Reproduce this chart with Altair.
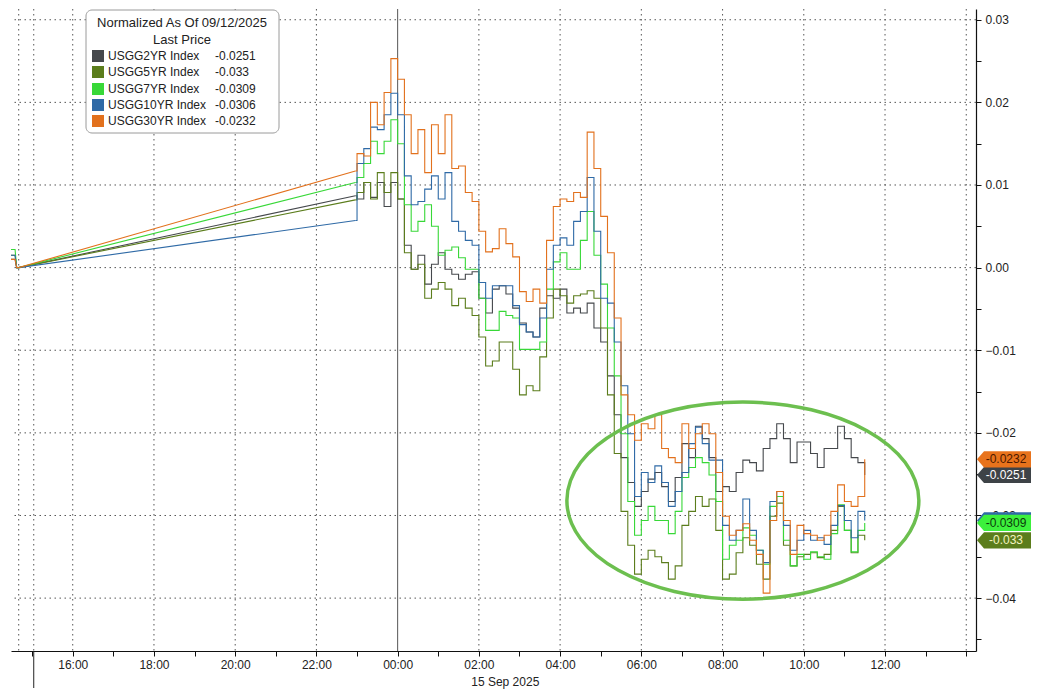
import altair as alt
import pandas as pd

W, H = 965, 642
FONT = "Liberation Sans"

SERIES = ["USGG2YR Index", "USGG5YR Index", "USGG7YR Index", "USGG10YR Index", "USGG30YR Index"]
LINE_COLORS = ["#45484c", "#5b7d1c", "#38d838", "#2f6aa6", "#e2711d"]
BOX_FILLS = ["#3e4347", "#5b7d1c", "#3cf03c", "#2f6aa6", "#e8731c"]
BOX_TEXT = ["#ffffff", "#f4f4c0", "#0b3a0b", "#ffffff", "#4a1800"]
LAST = [-0.0251, -0.033, -0.0309, -0.0306, -0.0232]
LAST_TEXT = ["-0.0251", "-0.033", "-0.0309", "-0.0306", "-0.0232"]

# time in hours relative to 00:00, 15 Sep 2025
PRE_HOURS = [-9.52, -9.42, -9.38, -9.33]
BRIDGE_HOUR = -1.04
GRID_START_HOUR = -1.0
GRID_STEP_MIN = 10
N_GRID = 76
HOURS = PRE_HOURS + [BRIDGE_HOUR] + [GRID_START_HOUR + i * GRID_STEP_MIN / 60 for i in range(N_GRID)]
N_PRE = len(PRE_HOURS)  # points before the weekend bridge

# values in units of 0.001 (pre-session, bridge end, then 10-minute readings)
Y2 = [1.0, 1.0, 0.0, 0.0, 8.7,
      8.3, 10.3, 8.5, 10.3, 7.4, 10.3, 8.3, 2.7, -0.2, 1.5, -2.0, 0.4,
      1.8, -0.2, -0.8, -1.4, -0.8, -0.5, -3.7, -5.5, -2.6, -2.2, -3.2, -4.9,
      -6.7, -7.8, -8.4, -4.9, -3.4, -3.7, -2.6, -5.5, -4.9, -5.5, -4.3, -7.3,
      -9.0, -13.1, -17.8, -23.0, -26.0, -28.9, -27.1, -25.6, -24.8, -26.5, -28.3, -25.4,
      -21.3, -23.0, -19.2, -20.7, -23.0, -27.1, -26.5, -27.1, -24.8, -23.3, -23.6, -24.6,
      -21.9, -20.7, -18.9, -20.7, -23.6, -21.1, -21.1, -22.5, -24.2, -21.9, -21.9, -19.2,
      -20.7, -23.0, -23.6, -25.1]
Y5 = [1.5, 1.5, 0.0, 0.0, 8.2,
      9.1, 10.3, 8.3, 11.5, 9.1, 11.5, 8.3, 1.8, -0.2, 0.4, -3.7, -2.6,
      -1.8, -2.6, -4.6, -3.7, -4.9, -5.8, -8.4, -11.9, -11.3, -9.0, -9.0, -12.3,
      -15.4, -14.3, -14.9, -10.8, -6.1, -2.6, -3.4, -4.3, -3.4, -3.2, -2.8, -3.7,
      -7.3, -15.4, -22.5, -29.5, -33.6, -37.1, -35.3, -34.2, -35.0, -35.7, -37.7, -36.1,
      -31.2, -29.5, -27.7, -28.9, -28.0, -31.8, -37.7, -37.1, -34.5, -32.7, -33.6, -35.9,
      -37.7, -30.1, -28.5, -33.6, -36.1, -35.0, -34.7, -34.5, -35.1, -34.7, -31.8, -28.9,
      -31.8, -34.5, -32.4, -33.0]
Y7 = [2.2, 2.2, 0.0, 0.0, 10.3,
      10.9, 12.6, 15.3, 13.8, 15.3, 17.9, 15.0, 7.6, 4.4, 5.6, 7.6, 5.0,
      1.5, 2.1, 2.5, 1.2, -0.2, -0.2, -3.7, -7.6, -7.6, -5.3, -5.8, -6.1,
      -9.9, -9.9, -9.9, -9.0, -2.6, 0.7, 1.8, -0.2, -0.2, 3.3, 6.8, 1.5,
      -2.0, -7.3, -13.1, -20.1, -28.3, -32.4, -30.6, -28.9, -30.6, -30.6, -32.2, -29.5,
      -25.4, -24.2, -23.0, -23.6, -25.1, -28.3, -35.3, -33.6, -33.0, -31.5, -32.4, -34.2,
      -35.9, -28.9, -27.7, -33.0, -36.1, -34.7, -35.3, -34.4, -35.0, -35.3, -32.2, -28.7,
      -31.8, -34.4, -31.8, -30.9]
Y10 = [1.5, 1.5, 0.0, 0.0, 5.7,
       12.6, 14.4, 17.0, 16.7, 18.5, 21.1, 18.5, 11.1, 7.6, 8.0, 9.5, 11.1,
       8.3, 11.5, 5.6, 4.4, 3.3, 2.7, -1.8, -3.7, -2.2, -2.2, -2.2, -4.6,
       -6.9, -7.8, -8.4, -6.1, -0.2, 2.7, 3.6, 2.7, 5.6, 6.8, 10.9, 4.4,
       -3.7, -4.3, -9.0, -14.3, -20.1, -27.7, -24.8, -26.0, -24.0, -26.0, -28.9, -27.1,
       -24.8, -21.3, -19.3, -21.3, -23.3, -23.3, -31.2, -33.0, -31.8, -28.0, -31.8, -34.2,
       -35.7, -28.3, -27.1, -31.2, -34.2, -33.0, -31.8, -33.0, -32.7, -33.5, -31.2, -28.8,
       -30.6, -32.7, -29.5, -30.6]
Y30 = [1.0, 1.0, 0.0, 0.0, 11.7,
       13.8, 13.5, 20.0, 17.3, 21.2, 25.3, 22.8, 18.5, 13.8, 16.7, 11.5, 17.3,
       13.8, 18.5, 12.0, 12.3, 9.1, 8.0, 4.4, 1.9, 2.3, 4.7, 2.9, 1.3,
       -2.9, -4.1, -2.6, -4.3, 3.3, 7.4, 8.3, 8.0, 9.1, 8.5, 16.4, 12.0,
       6.2, 1.8, -6.1, -15.4, -17.8, -20.9, -18.9, -19.5, -17.8, -21.9, -23.0, -23.6,
       -18.9, -21.9, -20.1, -18.9, -20.1, -24.8, -30.1, -32.4, -31.8, -31.0, -33.0, -34.7,
       -39.4, -30.6, -27.1, -30.6, -34.7, -31.2, -32.2, -32.4, -33.0, -32.4, -29.5, -26.3,
       -28.3, -28.9, -27.7, -23.2]
VALUES = [Y2, Y5, Y7, Y10, Y30]
UNIT = 0.001

X_DOMAIN = [-9.52, 14.24]
Y_DOMAIN = [-0.0464, 0.0313]
VGRID_HOURS = [-9.33, -8.96, -8, -6, -4, -2, 2, 4, 6, 8, 10, 12, 14]
HGRID_LEVELS = [-0.04, -0.03, -0.02, -0.01, 0.0, 0.01, 0.02, 0.03]
X_TICKS = list(range(-9, 15))
Y_TICKS = [-0.045, -0.04, -0.035, -0.03, -0.025, -0.02, -0.015, -0.01, -0.005,
           0.0, 0.005, 0.01, 0.015, 0.02, 0.025, 0.03]

ELLIPSE_CENTER = (8.5, -0.0282)
ELLIPSE_PATH = ("M -1 0 C -1 -0.309 -0.552 -0.56 0 -0.56 C 0.552 -0.56 1 -0.309 1 0 "
                "C 1 0.309 0.552 0.56 0 0.56 C -0.552 0.56 -1 0.309 -1 0 Z")
ELLIPSE_SIZE = 123904  # (2 * 176 px)^2
BOX_PATH = "M -1 0 L -0.74 -0.3 L 1 -0.3 L 1 0.3 L -0.74 0.3 Z"

xs = alt.Scale(domain=X_DOMAIN, nice=False, zero=False)
ys = alt.Scale(domain=Y_DOMAIN, nice=False, zero=False)

HH = "((datum.value + 24) % 24)"
x_axis = alt.Axis(
    values=X_TICKS, grid=False, title=None, orient="bottom",
    labelExpr=f"(datum.value % 2 == 0 && datum.value < 13) ? (({HH} < 10) ? '0' : '') + {HH} + ':00' : ''",
    tickSize=5, tickColor="#111", domainColor="#111", domainWidth=1.2,
    labelColor="#222", labelFont=FONT, labelFontSize=12, labelPadding=3,
    labelOverlap=False, labelFlush=False,
)
y_axis = alt.Axis(
    orient="right", values=Y_TICKS, grid=False, title=None,
    labelExpr="abs(round(datum.value * 1000)) % 10 == 0 ? format(datum.value, '.2f') : ''",
    tickSize=5, tickColor="#111", domainColor="#111", domainWidth=1.2,
    labelColor="#222", labelFont=FONT, labelFontSize=12, labelPadding=4,
    labelOverlap=False, labelFlush=False,
)

one = alt.Data(values=[{"k": 0}])

rows = []
for name, vals in zip(SERIES, VALUES):
    for idx, (t, v) in enumerate(zip(HOURS, vals)):
        rows.append({"t": t, "v": v * UNIT, "series": name, "idx": idx})
all_df = pd.DataFrame(rows)

X = lambda: alt.X("t:Q", scale=xs, axis=x_axis)
Y = lambda: alt.Y("v:Q", scale=ys, axis=y_axis)

vgrid = alt.Chart(pd.DataFrame({"t": VGRID_HOURS})).mark_rule(
    color="#555", strokeWidth=1, strokeDash=[1.5, 3.5]
).encode(x=X())

hgrid = alt.Chart(pd.DataFrame({"v": HGRID_LEVELS})).mark_rule(
    color="#555", strokeWidth=1, strokeDash=[1.5, 3.5]
).encode(y=Y())

midnight = alt.Chart(pd.DataFrame({"t": [0.0]})).mark_rule(color="#555", strokeWidth=1).encode(x=X())
day_tick = alt.Chart(pd.DataFrame({"t": [-8.96]})).mark_rule(color="#222", strokeWidth=1).encode(
    x=X(), y=alt.value(H), y2=alt.value(H + 37)
)

line_layers = []
for name, col in zip(SERIES, LINE_COLORS):
    df = all_df[all_df["series"] == name]
    # Friday tail and weekend bridge: straight segments
    line_layers.append(
        alt.Chart(df[df["idx"] <= N_PRE]).mark_line(
            color=col, strokeWidth=1.1, interpolate="linear"
        ).encode(x=X(), y=Y())
    )
    # Monday session: stepped ticks
    line_layers.append(
        alt.Chart(df[df["idx"] >= N_PRE]).mark_line(
            color=col, strokeWidth=1.1, interpolate="step-after"
        ).encode(x=X(), y=Y())
    )

ellipse = alt.Chart(pd.DataFrame({"t": [ELLIPSE_CENTER[0]], "v": [ELLIPSE_CENTER[1]]})).mark_point(
    shape=ELLIPSE_PATH, size=ELLIPSE_SIZE, filled=False, color="#6cbf4f",
    strokeWidth=3.5, opacity=1
).encode(x=X(), y=Y())

box_order = [3, 0, 1, 2, 4]
box_df = pd.DataFrame({
    "v": [LAST[i] for i in box_order],
    "text": [LAST_TEXT[i] for i in box_order],
    "fill": [BOX_FILLS[i] for i in box_order],
    "tcol": [BOX_TEXT[i] for i in box_order],
    "series": [SERIES[i] for i in box_order],
})
boxes = alt.Chart(box_df).mark_point(
    shape=BOX_PATH, size=2916, filled=True, opacity=1, strokeWidth=0
).encode(
    x=alt.value(W + 28), y=Y(), fill=alt.Fill("fill:N", scale=None),
)
box_text = alt.Chart(box_df[box_df["series"] != "USGG10YR Index"]).mark_text(
    font=FONT, fontSize=12, align="center", baseline="middle"
).encode(
    x=alt.value(W + 30), y=Y(), text="text:N", fill=alt.Fill("tcol:N", scale=None),
)

date_label = alt.Chart(pd.DataFrame({"t": [2.65]})).mark_text(
    text="15 Sep 2025", font=FONT, fontSize=12, color="#222", baseline="middle", align="center"
).encode(x=X(), y=alt.value(H + 31))

legend_layers = [
    alt.Chart(one).mark_rect(fill="white", stroke="#9a9a9a", strokeWidth=1, cornerRadius=6).encode(
        x=alt.value(75), x2=alt.value(268), y=alt.value(1), y2=alt.value(124)
    ),
    alt.Chart(one).mark_text(text="Normalized As Of 09/12/2025", font=FONT, fontSize=13,
                             color="#222", align="center", baseline="middle").encode(
        x=alt.value(171), y=alt.value(14)),
    alt.Chart(one).mark_text(text="Last Price", font=FONT, fontSize=13,
                             color="#222", align="center", baseline="middle").encode(
        x=alt.value(171), y=alt.value(31)),
]
ROW_Y = [47, 63, 80, 96, 112]
for name, col, txt, ry in zip(SERIES, LINE_COLORS, LAST_TEXT, ROW_Y):
    legend_layers.append(
        alt.Chart(one).mark_rect(fill=col).encode(
            x=alt.value(81), x2=alt.value(93), y=alt.value(ry - 6), y2=alt.value(ry + 6))
    )
    legend_layers.append(
        alt.Chart(one).mark_text(text=name, font=FONT, fontSize=12, color="#222",
                                 align="left", baseline="middle").encode(
            x=alt.value(97), y=alt.value(ry))
    )
    legend_layers.append(
        alt.Chart(one).mark_text(text=txt, font=FONT, fontSize=12, color="#222",
                                 align="left", baseline="middle").encode(
            x=alt.value(204), y=alt.value(ry))
    )

chart = alt.layer(
    vgrid, hgrid, midnight, day_tick, *line_layers, ellipse, boxes, box_text,
    date_label, *legend_layers
).properties(
    width=W, height=H, padding=0, background="white"
).configure_view(stroke=None)

chart.save("out.html", embed_options={"renderer": "svg", "actions": False})
